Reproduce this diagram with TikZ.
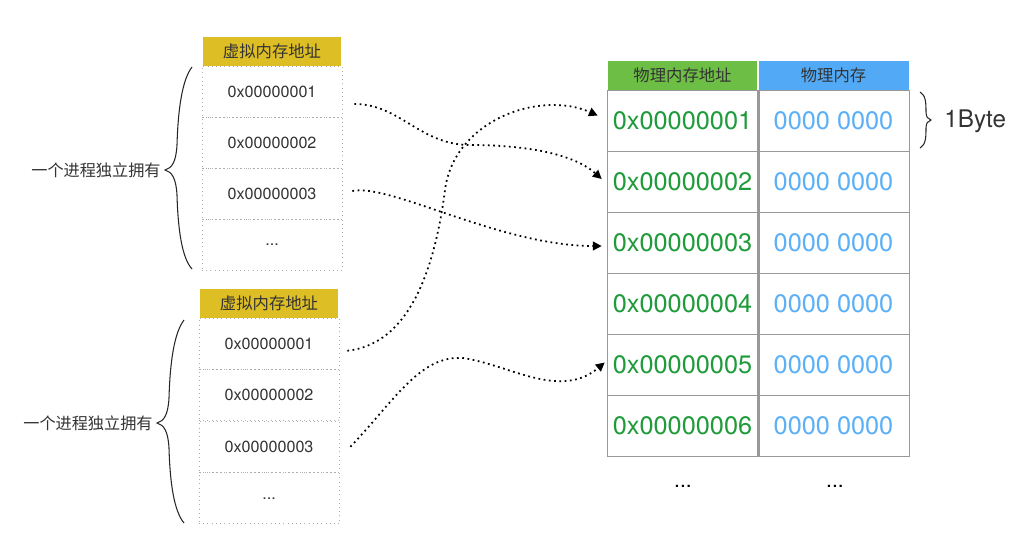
\documentclass[tikz,border=0pt]{standalone}
\usepackage{fontspec}
\setmainfont{TeX Gyre Heros}
\newfontfamily\cjk{Noto Sans CJK SC}
\usetikzlibrary{arrows.meta}
\definecolor{vyellow}{HTML}{DDBE24}
\definecolor{pgreenhead}{HTML}{6DBE44}
\definecolor{pbluehead}{HTML}{52AAF6}
\definecolor{pgreen}{HTML}{1F9B3B}
\definecolor{pblue}{HTML}{5CB0F7}
\definecolor{txtgray}{HTML}{333333}
\definecolor{linegray}{HTML}{999999}

\begin{document}
\begin{tikzpicture}[x=0.02cm, y=-0.02cm,
    vhead/.style = {fill=vyellow, text=txtgray, minimum width=2.76cm, minimum height=0.58cm, inner sep=0pt, font=\cjk\fontsize{9.3}{11}\selectfont},
    vrow/.style = {draw=linegray!80, dotted, minimum width=2.8cm, minimum height=1.02cm, inner sep=0pt, text=txtgray, font=\fontsize{9.2}{11}\selectfont},
    phead/.style = {text=txtgray, minimum width=3.0cm, minimum height=0.58cm, inner sep=0pt, font=\cjk\fontsize{9.3}{11}\selectfont},
    paddr/.style = {draw=linegray, minimum width=3.02cm, minimum height=1.22cm, inner sep=0pt, text=pgreen, font=\fontsize{14.4}{16}\selectfont},
    pmem/.style = {draw=linegray, minimum width=3.02cm, minimum height=1.22cm, inner sep=0pt, text=pblue, font=\fontsize{14.4}{16}\selectfont},
    owner/.style = {text=txtgray, inner sep=0pt, font=\cjk\fontsize{9.2}{11}\selectfont},
    curly/.style = {line width=0.6pt, black!85},
    maparrow/.style = {dotted, line width=1pt, -{Triangle[length=5pt,width=5pt]}}]
    \useasboundingbox (0,0) rectangle (1020,532);

    % Proceso 1
    \node[vhead] (th) at (272,51.5) {虚拟内存地址};
    \node[vrow] (tv1) at (272,91.5) {0x00000001};
    \node[vrow] (tv2) at (272,142.5) {0x00000002};
    \node[vrow] (tv3) at (272,193.5) {0x00000003};
    \node[vrow] (tv4) at (272,244.5) {...};
    \node[owner, anchor=east] (to) at (161,170) {一个进程独立拥有};
    \draw[curly] (192,67) .. controls (182,80) and (178,110) .. (177,145)
        .. controls (176,162) and (172,168) .. (165,170)
        .. controls (172,172) and (176,178) .. (177,195)
        .. controls (178,230) and (182,258) .. (192,269);

    % Proceso 2
    \node[vhead] (bh) at (269,303.5) {虚拟内存地址};
    \node[vrow] (bv1) at (269,343.75) {0x00000001};
    \node[vrow] (bv2) at (269,395.25) {0x00000002};
    \node[vrow] (bv3) at (269,446.75) {0x00000003};
    \node[vrow] (bv4) at (269,498.25) {...};
    \node[owner, anchor=east] (bo) at (153,423) {一个进程独立拥有};
    \draw[curly] (184,320) .. controls (174,333) and (170,363) .. (169,398)
        .. controls (168,415) and (164,421) .. (157,423)
        .. controls (164,425) and (168,431) .. (169,448)
        .. controls (170,483) and (174,511) .. (184,523);

    % Memoria fisica
    \node[phead, fill=pgreenhead] (ph1) at (682.5,75.5) {物理内存地址};
    \node[phead, fill=pbluehead] (ph2) at (833.5,75.5) {物理内存};
    \node[paddr] (pa1) at (682.5,120.5) {0x00000001};
    \node[pmem] (pm1) at (833.5,120.5) {0000 0000};
    \node[paddr] (pa2) at (682.5,181.5) {0x00000002};
    \node[pmem] (pm2) at (833.5,181.5) {0000 0000};
    \node[paddr] (pa3) at (682.5,242.5) {0x00000003};
    \node[pmem] (pm3) at (833.5,242.5) {0000 0000};
    \node[paddr] (pa4) at (682.5,303.5) {0x00000004};
    \node[pmem] (pm4) at (833.5,303.5) {0000 0000};
    \node[paddr] (pa5) at (682.5,364.5) {0x00000005};
    \node[pmem] (pm5) at (833.5,364.5) {0000 0000};
    \node[paddr] (pa6) at (682.5,425.5) {0x00000006};
    \node[pmem] (pm6) at (833.5,425.5) {0000 0000};
    \draw[linegray, line width=1.4pt] (pa1.north east) -- (pa6.south east);
    \node[font=\fontsize{12}{14}\selectfont] (pd1) at (683,486) {...};
    \node[font=\fontsize{12}{14}\selectfont] (pd2) at (835,486) {...};

    % 1Byte
    \draw[curly] (920,92) .. controls (926,95) and (926,104) .. (926,112)
        .. controls (926,117) and (928,119) .. (931,120)
        .. controls (928,121) and (926,123) .. (926,128)
        .. controls (926,136) and (926,145) .. (920,148);
    \node[anchor=west, inner sep=0pt, text=txtgray, font=\fontsize{13.8}{16}\selectfont] (byte) at (944,121) {1Byte};

    % Conexiones
    \draw[maparrow] ([shift={(12,12.5)}]tv1.east) .. controls (400,104) and (420,145) .. (470,145)
        .. controls (530,145) and (575,155) .. ([shift={(-5,-2.5)}]pa2.west);
    \draw[maparrow] ([shift={(10,-2.5)}]tv3.east) .. controls (390,183) and (500,246) .. ([shift={(-5,3.5)}]pa3.west);
    \draw[maparrow] ([shift={(8,7)}]bv1.east) .. controls (400,345) and (432,290) .. (445,190)
        .. controls (454,120) and (540,90) .. ([shift={(-9,-5)}]pa1.west);
    \draw[maparrow] ([shift={(11,0)}]bv3.east) .. controls (395,400) and (420,355) .. (463,358)
        .. controls (510,365) and (560,400) .. ([shift={(-2,-2)}]pa5.west);
\end{tikzpicture}
\end{document}
